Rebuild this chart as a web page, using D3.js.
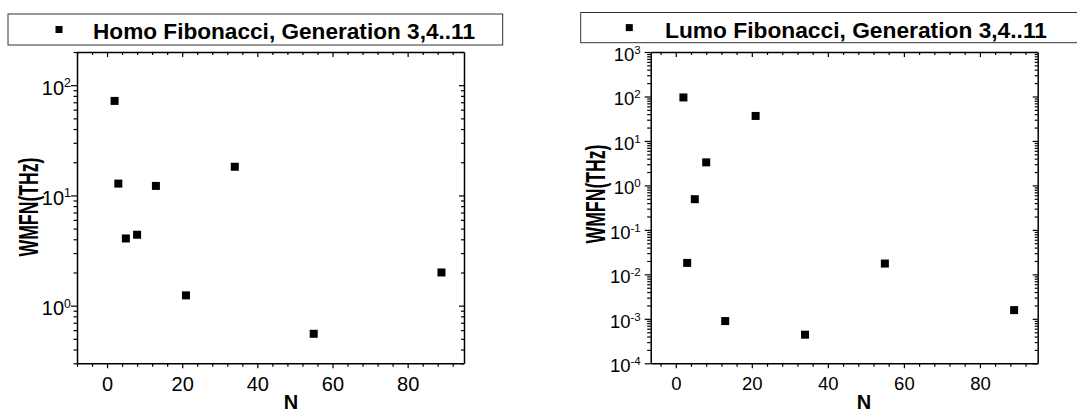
<!DOCTYPE html>
<html><head><meta charset="utf-8">
<script src="https://cdn.jsdelivr.net/npm/d3@7"></script>
<style>body{margin:0;background:#fff}svg{display:block;font-family:"Liberation Sans",Arial,sans-serif}</style>
</head><body><svg id="c" width="1077" height="414"></svg>
<script>
// ---- data ----
const nValues = [2, 3, 5, 8, 13, 21, 34, 55, 89];
const homoValues = [72, 12.8, 4.07, 4.4, 12.2, 1.24, 18.2, 0.556, 2.0];
const lumoValues = [95, 0.0181, 0.49, 3.3, 0.00089, 36.5, 0.00044, 0.0175, 0.00157];
const seriesNames = ["Homo Fibonacci, Generation 3,4..11", "Lumo Fibonacci, Generation 3,4..11"];
const xTickValues = [0, 20, 40, 60, 80];
const homoYExponents = [0, 1, 2];
const lumoYExponents = [-4, -3, -2, -1, 0, 1, 2, 3];
const xTitle = "N";
const yTitle = "WMFN(THz)";

const FONT = "Liberation Sans, Arial, sans-serif";
const svg = d3.select("#c");

const panels = [
  {name: seriesNames[0], values: homoValues, exps: homoYExponents,
   x0: 77, x1: 464, y0: 52, y1: 363.3, xDom: [-8, 95], yDom: [0.3, 200],
   legend: {x: 8, y: 14, w: 494.7, h: 31, mx: 59, tx: 93, ty: 38.5},
   yTitle: {x: 28, y: 207}, xTitleX: 291, tickFs: 20, labelGap: 6},
  {name: seriesNames[1], values: lumoValues, exps: lumoYExponents,
   x0: 650.7, x1: 1037.7, y0: 52, y1: 363.3, xDom: [-6.6, 95.2], yDom: [1e-4, 1e3],
   legend: {x: 580.7, y: 12.5, w: 520, h: 30.2, mx: 629.3, tx: 665, ty: 37.5},
   yTitle: {x: 595, y: 194}, xTitleX: 864, tickFs: 18.5, labelGap: 10}
];

panels.forEach(p => {
  const x = d3.scaleLinear().domain(p.xDom).range([p.x0, p.x1]);
  const y = d3.scaleLog().domain(p.yDom).range([p.y1, p.y0]);
  const g = svg.append("g");

  const xMinor = d3.range(-8, 100, 4).filter(v => v >= p.xDom[0] && v <= p.xDom[1] && v % 20 !== 0);
  const yMinor = [];
  const e0 = Math.floor(Math.log10(p.yDom[0])), e1 = Math.ceil(Math.log10(p.yDom[1]));
  for (let e = e0; e <= e1; e++) for (let k = 2; k <= 9; k++) {
    const v = k * Math.pow(10, e);
    if (v >= p.yDom[0] && v <= p.yDom[1]) yMinor.push(v);
  }
  const yMajor = p.exps.map(e => Math.pow(10, e));

  const styleAxis = sel => {
    sel.select(".domain").attr("stroke", "#000").attr("stroke-width", 1.5);
    sel.selectAll(".tick line").attr("stroke", "#000").attr("stroke-width", 1.2);
  };

  // bottom axis
  g.append("g").attr("transform", `translate(0,${p.y1})`)
    .call(d3.axisBottom(x).tickValues(xTickValues).tickSize(5).tickPadding(9).tickSizeOuter(0))
    .call(styleAxis)
    .call(s => s.selectAll("text").attr("font-size", p.tickFs).attr("fill", "#000")
      .attr("font-family", FONT));
  g.append("g").attr("transform", `translate(0,${p.y1})`)
    .call(d3.axisBottom(x).tickValues(xMinor).tickSize(3.5).tickFormat("").tickSizeOuter(0))
    .call(styleAxis).call(s => s.select(".domain").remove());
  // top axis (inward)
  g.append("g").attr("transform", `translate(0,${p.y0})`)
    .call(d3.axisBottom(x).tickValues(xTickValues).tickSize(5).tickFormat("").tickSizeOuter(0))
    .call(styleAxis);
  g.append("g").attr("transform", `translate(0,${p.y0})`)
    .call(d3.axisBottom(x).tickValues(xMinor).tickSize(3).tickFormat("").tickSizeOuter(0))
    .call(styleAxis).call(s => s.select(".domain").remove());

  // left axis
  const left = g.append("g").attr("transform", `translate(${p.x0},0)`)
    .call(d3.axisLeft(y).tickValues(yMajor).tickSize(6).tickFormat("").tickSizeOuter(0))
    .call(styleAxis);
  g.append("g").attr("transform", `translate(${p.x0},0)`)
    .call(d3.axisLeft(y).tickValues(yMinor).tickSize(3.5).tickFormat("").tickSizeOuter(0))
    .call(styleAxis).call(s => s.select(".domain").remove());
  left.selectAll(".tick").each(function(d) {
    const e = Math.round(Math.log10(d));
    const t = d3.select(this).append("text")
      .attr("x", -p.labelGap).attr("y", 0).attr("dy", "0.45em")
      .attr("text-anchor", "end").attr("fill", "#000")
      .attr("font-family", FONT).attr("font-size", p.tickFs);
    t.append("tspan").text("10");
    t.append("tspan").attr("dy", "-0.6em").attr("font-size", p.tickFs * 0.62).text(String(e));
  });
  // right axis (inward)
  g.append("g").attr("transform", `translate(${p.x1},0)`)
    .call(d3.axisLeft(y).tickValues(yMajor).tickSize(-5).tickFormat("").tickSizeOuter(0))
    .call(styleAxis).call(s => s.selectAll(".tick line").attr("x2", -5));
  g.append("g").attr("transform", `translate(${p.x1},0)`)
    .call(d3.axisLeft(y).tickValues(yMinor).tickSize(-3).tickFormat("").tickSizeOuter(0))
    .call(styleAxis).call(s => { s.select(".domain").remove(); s.selectAll(".tick line").attr("x2", -3); });

  // points
  g.append("g").selectAll("rect").data(nValues.map((n, i) => [n, p.values[i]])).join("rect")
    .attr("x", d => x(d[0]) - 4).attr("y", d => y(d[1]) - 4)
    .attr("width", 8).attr("height", 8).attr("fill", "#000");

  // titles
  g.append("text").attr("transform", `translate(${p.yTitle.x},${p.yTitle.y}) rotate(-90)`)
    .attr("text-anchor", "middle").attr("dy", "0.36em")
    .attr("font-family", FONT).attr("font-size", 27).attr("font-weight", "bold")
    .attr("textLength", 99).attr("lengthAdjust", "spacingAndGlyphs").text(yTitle);
  g.append("text").attr("x", p.xTitleX).attr("y", 409).attr("text-anchor", "middle")
    .attr("font-family", FONT).attr("font-size", 20).attr("font-weight", "bold").text(xTitle);

  // legend
  const L = p.legend;
  g.append("rect").attr("x", L.x).attr("y", L.y).attr("width", L.w).attr("height", L.h)
    .attr("fill", "#fff").attr("stroke", "#333").attr("stroke-width", 1);
  g.append("rect").attr("x", L.mx - 3.5).attr("y", L.y + L.h / 2 - 3.5)
    .attr("width", 7).attr("height", 7).attr("fill", "#000");
  g.append("text").attr("x", L.tx).attr("y", L.ty)
    .attr("font-family", FONT).attr("font-size", 21.5).attr("font-weight", "bold")
    .attr("textLength", 382).attr("lengthAdjust", "spacingAndGlyphs").text(p.name);
});
</script></body></html>
